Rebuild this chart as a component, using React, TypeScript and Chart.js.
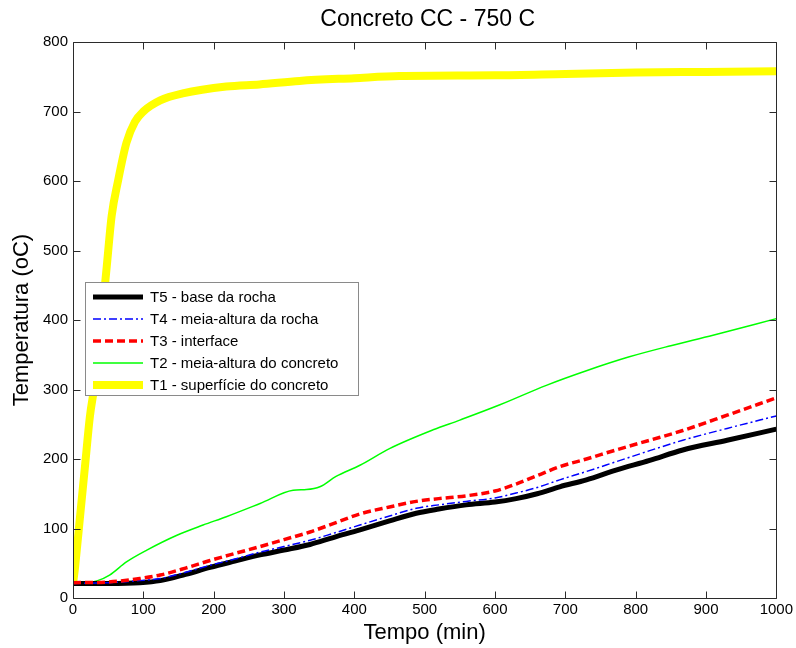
import React, { useEffect, useRef } from 'react';
import { Chart, registerables } from 'chart.js';

Chart.register(...registerables);

const TITLE = 'Concreto CC - 750 C';
const X_LABEL = 'Tempo (min)';
const Y_LABEL = 'Temperatura (oC)';
const X_TICKS = [0, 100, 200, 300, 400, 500, 600, 700, 800, 900, 1000];
const Y_TICKS = [0, 100, 200, 300, 400, 500, 600, 700, 800];

// Shared times for T3, T4, T5 (min)
const T_LOWER = [0, 50, 95, 124, 160, 195, 230, 266, 300, 337, 370, 408, 450, 488, 520, 559, 600, 630, 660, 692, 730, 772, 820, 867, 930, 1000];
const T5_BASE = [21, 21, 22, 25, 34, 44, 53, 62, 69, 77, 87, 98, 111, 122, 128, 134, 138, 143, 150, 160, 170, 184, 198, 213, 227, 243];
const T4_MEIA_ROCHA = [21, 22, 25, 28, 37, 47, 56, 66, 74, 83, 93, 105, 118, 129, 134, 139, 144, 151, 159, 170, 182, 196, 212, 227, 244, 262];
const T3_INTERFACE = [22, 23, 28, 33, 43, 54, 64, 74, 84, 95, 107, 121, 131, 139, 143, 147, 154, 164, 176, 189, 200, 213, 227, 241, 263, 288];

const T_T2 = [0, 20, 35, 52, 76, 105, 147, 185, 218, 266, 313, 332, 351, 374, 408, 450, 512, 550, 607, 673, 730, 791, 850, 910, 1000];
const T2_MEIA_CONCRETO = [23, 22, 25, 33, 52, 69, 90, 105, 117, 136, 155, 156, 160, 175, 191, 215, 242, 256, 278, 306, 327, 347, 363, 378, 402];

const T_T1 = [0, 3, 10, 17, 24, 31, 41, 48, 55, 64, 76, 88, 100, 124, 156, 218, 265, 322, 400, 464, 600, 700, 800, 900, 1000];
const T1_SUPERFICIE = [20, 45, 117, 189, 261, 309, 405, 477, 550, 600, 655, 685, 700, 716, 726, 736, 739, 744, 748, 751, 752, 754, 756, 757, 758];

const LABELS = [
  'T5 - base da rocha',
  'T4 - meia-altura da rocha',
  'T3 - interface',
  'T2 - meia-altura do concreto',
  'T1 - superfície do concreto',
];

const FONT = 'Arial, "Liberation Sans", Helvetica, sans-serif';

const pts = (xs: number[], ys: number[]) => xs.map((x, i) => ({ x, y: ys[i] }));

const boxTicks = {
  id: 'boxTicks',
  afterDatasetsDraw(chart: any) {
    const { ctx, chartArea, scales } = chart;
    const { left, right, top, bottom } = chartArea;
    const L = Math.round(left) + 0.5;
    const R = Math.round(right) + 0.5;
    const T = Math.round(top) + 0.5;
    const B = Math.round(bottom) + 0.5;
    const len = 7;
    ctx.save();
    ctx.strokeStyle = '#2b2b2b';
    ctx.lineWidth = 1;
    ctx.setLineDash([]);
    ctx.beginPath();
    ctx.rect(L, T, R - L, B - T);
    X_TICKS.forEach((v) => {
      const px = Math.round(scales.x.getPixelForValue(v)) + 0.5;
      ctx.moveTo(px, B);
      ctx.lineTo(px, B - len);
      ctx.moveTo(px, T);
      ctx.lineTo(px, T + len);
    });
    Y_TICKS.forEach((v) => {
      const py = Math.round(scales.y.getPixelForValue(v)) + 0.5;
      ctx.moveTo(L, py);
      ctx.lineTo(L + len, py);
      ctx.moveTo(R, py);
      ctx.lineTo(R - len, py);
    });
    ctx.stroke();
    // title centred over the axes
    ctx.fillStyle = '#000';
    ctx.font = `23px ${FONT}`;
    ctx.textAlign = 'center';
    ctx.textBaseline = 'middle';
    ctx.fillText(TITLE, (left + right) / 2 + 3, 20);
    ctx.restore();
  },
};

const innerLegend = {
  id: 'innerLegend',
  afterDraw(chart: any) {
    const { ctx } = chart;
    const x0 = 85.5, y0 = 282.5, w = 273, h = 113;
    ctx.save();
    ctx.fillStyle = '#ffffff';
    ctx.fillRect(x0, y0, w, h);
    ctx.strokeStyle = '#8a8a8a';
    ctx.lineWidth = 1;
    ctx.strokeRect(x0, y0, w, h);
    chart.data.datasets.forEach((ds: any, i: number) => {
      const yy = 297 + i * 22;
      ctx.beginPath();
      ctx.strokeStyle = ds.borderColor;
      ctx.lineWidth = ds.borderWidth;
      ctx.setLineDash(ds.borderDash || []);
      ctx.lineCap = 'butt';
      ctx.moveTo(93, yy);
      ctx.lineTo(143, yy);
      ctx.stroke();
      ctx.setLineDash([]);
      ctx.fillStyle = '#000';
      ctx.font = `15px ${FONT}`;
      ctx.textBaseline = 'middle';
      ctx.textAlign = 'left';
      ctx.fillText(ds.label, 150, yy + 1);
    });
    ctx.restore();
  },
};

export default function App() {
  const ref = useRef<HTMLCanvasElement | null>(null);

  useEffect(() => {
    if (!ref.current) return;
    const chart = new Chart(ref.current, {
      type: 'line',
      data: {
        datasets: [
          {
            label: LABELS[0],
            data: pts(T_LOWER, T5_BASE),
            borderColor: '#000000',
            borderWidth: 5,
            order: 3,
          },
          {
            label: LABELS[1],
            data: pts(T_LOWER, T4_MEIA_ROCHA),
            borderColor: '#0000ff',
            borderWidth: 1.5,
            borderDash: [8, 3, 2, 3],
            order: 2,
          },
          {
            label: LABELS[2],
            data: pts(T_LOWER, T3_INTERFACE),
            borderColor: '#ff0000',
            borderWidth: 3.5,
            borderDash: [8, 4],
            order: 1,
          },
          {
            label: LABELS[3],
            data: pts(T_T2, T2_MEIA_CONCRETO),
            borderColor: '#00ff00',
            borderWidth: 1.5,
            order: 4,
          },
          {
            label: LABELS[4],
            data: pts(T_T1, T1_SUPERFICIE),
            borderColor: '#ffff00',
            borderWidth: 8,
            order: 5,
          },
        ] as any,
      },
      options: {
        animation: false,
        responsive: false,
        maintainAspectRatio: false,
        parsing: false as any,
        elements: {
          point: { radius: 0, hoverRadius: 0 },
          line: { cubicInterpolationMode: 'monotone', borderJoinStyle: 'round', fill: false },
        },
        layout: { padding: { top: 42, right: 19, left: 0, bottom: 0 } },
        plugins: {
          legend: { display: false },
          tooltip: { enabled: false },
          title: { display: false },
        },
        scales: {
          x: {
            type: 'linear',
            min: 0,
            max: 1000,
            grid: { display: false, drawTicks: false },
            border: { display: false },
            ticks: {
              stepSize: 100,
              color: '#000',
              font: { family: FONT, size: 15 },
              padding: 3,
              maxRotation: 0,
              callback: (v: any) => String(v),
            },
            title: {
              display: true,
              text: X_LABEL,
              color: '#000',
              font: { family: FONT, size: 22 },
              padding: { top: 0, bottom: 2 },
            },
            afterFit: (s: any) => {
              s.height = 50;
            },
          },
          y: {
            type: 'linear',
            min: 0,
            max: 800,
            grid: { display: false, drawTicks: false },
            border: { display: false },
            ticks: {
              stepSize: 100,
              color: '#000',
              font: { family: FONT, size: 15 },
              padding: 5,
              callback: (v: any) => String(v),
            },
            title: {
              display: true,
              text: Y_LABEL,
              color: '#000',
              font: { family: FONT, size: 22 },
              padding: { top: 9, bottom: 0 },
            },
            afterFit: (s: any) => {
              s.width = 73;
            },
          },
        },
      } as any,
      plugins: [boxTicks, innerLegend],
    });
    return () => chart.destroy();
  }, []);

  return (
    <div style={{ position: 'absolute', left: 0, top: 0, width: 796, height: 648, background: '#fff' }}>
      <canvas ref={ref} width={796} height={648} style={{ width: 796, height: 648, display: 'block' }} />
    </div>
  );
}
